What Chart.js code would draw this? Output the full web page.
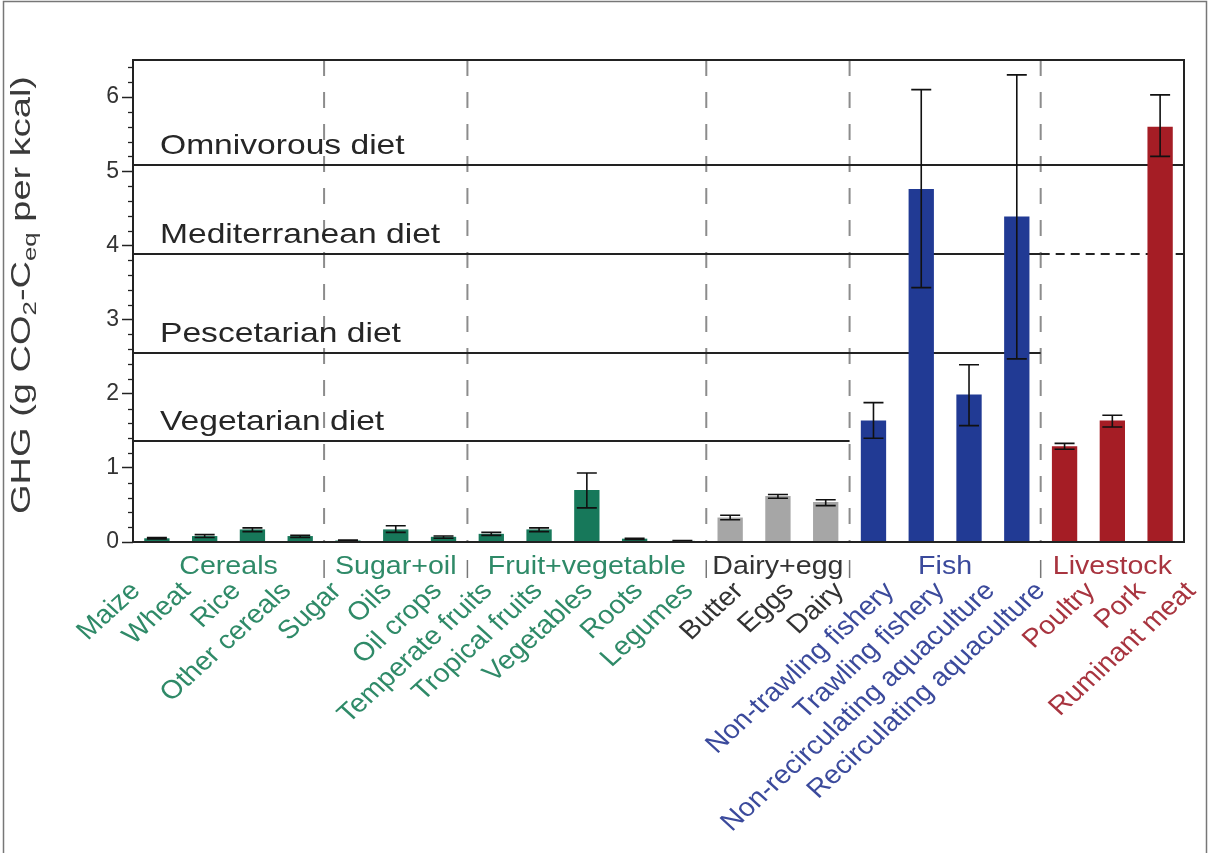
<!DOCTYPE html>
<html>
<head>
<meta charset="utf-8">
<script src="https://cdn.jsdelivr.net/npm/chart.js@4.4.1/dist/chart.umd.min.js"></script>
<style>
  html, body { margin: 0; padding: 0; background: #fff; }
  #wrap { width: 1208px; height: 853px; position: relative; }
</style>
</head>
<body>
<div id="wrap"><canvas id="c" width="1208" height="853"></canvas></div>
<script>
// Food items, grouped by food class
const categories = ['Maize', 'Wheat', 'Rice', 'Other cereals', 'Sugar', 'Oils', 'Oil crops',
  'Temperate fruits', 'Tropical fruits', 'Vegetables', 'Roots', 'Legumes',
  'Butter', 'Eggs', 'Dairy',
  'Non-trawling fishery', 'Trawling fishery', 'Non-recirculating aquaculture', 'Recirculating aquaculture',
  'Poultry', 'Pork', 'Ruminant meat'];

// Mean GHG emissions (g CO2-Ceq per kcal) and error-bar range
const ghgValues = [0.05, 0.08, 0.17, 0.08, 0.02, 0.17, 0.07,
  0.11, 0.17, 0.70, 0.045, 0.015,
  0.33, 0.62, 0.54,
  1.64, 4.76, 1.99, 4.39,
  1.29, 1.64, 5.60];
const errLow = [0.04, 0.06, 0.14, 0.06, 0.015, 0.13, 0.05,
  0.09, 0.14, 0.46, 0.035, 0.01,
  0.30, 0.59, 0.49,
  1.40, 3.43, 1.57, 2.47,
  1.25, 1.55, 5.20];
const errHigh = [0.06, 0.10, 0.19, 0.09, 0.025, 0.22, 0.08,
  0.13, 0.19, 0.93, 0.05, 0.02,
  0.36, 0.64, 0.57,
  1.88, 6.10, 2.39, 6.30,
  1.33, 1.71, 6.03];

// Food classes
const groupNames = ['Cereals', 'Sugar+oil', 'Fruit+vegetable', 'Dairy+egg', 'Fish', 'Livestock'];
const groupSizes = [4, 3, 5, 3, 4, 3];
const groupBarColors = ['#17785a', '#17785a', '#17785a', '#a6a6a6', '#213a94', '#a51d25'];
const groupTextColors = ['#2f8a68', '#2f8a68', '#2f8a68', '#333333', '#3b4a9c', '#a8343f'];

// Diet reference levels and how far (in items) each line runs
const dietNames = ['Omnivorous diet', 'Mediterranean diet', 'Pescetarian diet', 'Vegetarian diet'];
const dietValues = [5.09, 3.88, 2.55, 1.36];
const dietSolidEnd = [22, 19, 19, 15];
const dietDashedEnd = [22, 22, 19, 15];

const yTicks = [0, 1, 2, 3, 4, 5, 6];
const yMax = 6.5;

// group index for each item
const itemGroup = [];
groupSizes.forEach((n, g) => { for (let k = 0; k < n; k++) itemGroup.push(g); });
const groupStarts = [];
groupSizes.reduce((acc, n) => { groupStarts.push(acc); return acc + n; }, 0);

const FONT = '"Liberation Sans", Arial, Helvetica, sans-serif';

function stretchedText(ctx, text, x, y, sx, align, base) {
  ctx.save();
  ctx.translate(x, y);
  ctx.scale(sx, 1);
  ctx.textAlign = align;
  ctx.textBaseline = base;
  ctx.fillText(text, 0, 0);
  ctx.restore();
}

const decorPlugin = {
  id: 'decor',
  beforeDatasetsDraw(chart) {
    const {ctx, chartArea: a, scales: {x, y}} = chart;
    const step = x.width / categories.length;
    // dashed separators between food classes
    ctx.save();
    ctx.strokeStyle = '#8c8c8c';
    ctx.lineWidth = 2;
    ctx.setLineDash([16, 16]);
    groupStarts.slice(1).forEach(s => {
      const bx = x.getPixelForValue(s) - step / 2;
      ctx.beginPath();
      ctx.moveTo(bx, a.top);
      ctx.lineTo(bx, a.bottom);
      ctx.stroke();
    });
    ctx.restore();

    // diet reference lines with labels
    ctx.save();
    ctx.strokeStyle = '#222';
    ctx.lineWidth = 2;
    dietValues.forEach((v, i) => {
      const py = Math.round(y.getPixelForValue(v));
      const xs = x.getPixelForValue(dietSolidEnd[i] - 1) + step / 2;
      const xd = x.getPixelForValue(dietDashedEnd[i] - 1) + step / 2;
      ctx.setLineDash([]);
      ctx.beginPath();
      ctx.moveTo(a.left, py);
      ctx.lineTo(xs, py);
      ctx.stroke();
      if (xd > xs + 1) {
        ctx.setLineDash([9, 6]);
        ctx.beginPath();
        ctx.moveTo(xs, py);
        ctx.lineTo(xd, py);
        ctx.stroke();
      }
      ctx.fillStyle = '#262626';
      ctx.font = '28px ' + FONT;
      stretchedText(ctx, dietNames[i], a.left + 27, py - 11, 1.2, 'left', 'alphabetic');
    });
    ctx.restore();
  },
  afterDatasetsDraw(chart) {
    const {ctx, chartArea: a, scales: {x, y}} = chart;
    const step = x.width / categories.length;
    // error bars
    ctx.save();
    ctx.strokeStyle = '#111';
    ctx.lineWidth = 1.6;
    categories.forEach((c, i) => {
      const cx = x.getPixelForValue(i);
      const y1 = y.getPixelForValue(errLow[i]);
      const y2 = y.getPixelForValue(errHigh[i]);
      const hw = 10;
      ctx.beginPath();
      ctx.moveTo(cx, y1); ctx.lineTo(cx, y2);
      ctx.moveTo(cx - hw, y2); ctx.lineTo(cx + hw, y2);
      ctx.moveTo(cx - hw, y1); ctx.lineTo(cx + hw, y1);
      ctx.stroke();
    });
    ctx.restore();

    // plot frame
    ctx.save();
    ctx.strokeStyle = '#222';
    ctx.lineWidth = 2;
    ctx.strokeRect(a.left, a.top, a.right - a.left, a.bottom - a.top);
    // minor ticks on the value axis
    ctx.lineWidth = 1.3;
    for (let k = 1; k < yMax * 5; k++) {
      if (k % 5 === 0) continue;
      const py = Math.round(y.getPixelForValue(k / 5)) + 0.5;
      ctx.beginPath();
      ctx.moveTo(a.left - 5, py);
      ctx.lineTo(a.left, py);
      ctx.stroke();
    }
    ctx.restore();

    // food class labels and their separators below the axis
    ctx.save();
    ctx.font = '26px ' + FONT;
    groupNames.forEach((g, gi) => {
      const s = groupStarts[gi];
      const e = s + groupSizes[gi] - 1;
      const left = x.getPixelForValue(s) - step / 2;
      const right = x.getPixelForValue(e) + step / 2;
      ctx.fillStyle = groupTextColors[gi];
      stretchedText(ctx, g, (left + right) / 2, a.bottom + 32, 1.1, 'center', 'alphabetic');
      if (gi > 0) {
        ctx.strokeStyle = '#777';
        ctx.lineWidth = 1.5;
        ctx.beginPath();
        ctx.moveTo(left, a.bottom + 18);
        ctx.lineTo(left, a.bottom + 36);
        ctx.stroke();
      }
    });
    ctx.restore();

    // item labels, rotated
    ctx.save();
    ctx.font = '26px ' + FONT;
    categories.forEach((c, i) => {
      const lx = a.left + 3 + i * step * 1.052;
      const ly = a.bottom + 45;
      ctx.fillStyle = groupTextColors[itemGroup[i]];
      ctx.save();
      ctx.translate(lx, ly);
      ctx.scale(1.1, 1);
      ctx.rotate(-Math.PI / 4);
      ctx.textAlign = 'right';
      ctx.textBaseline = 'middle';
      ctx.fillText(c, 0, 0);
      ctx.restore();
    });
    ctx.restore();

    // value axis title with subscripts
    ctx.save();
    const parts = [['GHG (g CO', false], ['2', true], ['-C', false], ['eq', true], [' per kcal)', false]];
    const big = '28px ' + FONT, small = '19px ' + FONT;
    let total = 0;
    parts.forEach(p => { ctx.font = p[1] ? small : big; total += ctx.measureText(p[0]).width; });
    const target = 438;
    const k = target / total;
    ctx.translate(22, (a.top + a.bottom) / 2 - 6);
    ctx.rotate(-Math.PI / 2);
    ctx.scale(k, 1);
    ctx.fillStyle = '#3a3a3a';
    ctx.textBaseline = 'middle';
    let px = -total / 2;
    parts.forEach(p => {
      ctx.font = p[1] ? small : big;
      ctx.fillText(p[0], px, p[1] ? 9 : 0);
      px += ctx.measureText(p[0]).width;
    });
    ctx.restore();

    // outer border
    ctx.save();
    ctx.strokeStyle = '#777';
    ctx.lineWidth = 1.5;
    ctx.beginPath();
    ctx.moveTo(3.5, chart.height);
    ctx.lineTo(3.5, 1.5);
    ctx.lineTo(chart.width - 1.5, 1.5);
    ctx.lineTo(chart.width - 1.5, chart.height);
    ctx.stroke();
    ctx.restore();
  }
};

new Chart(document.getElementById('c'), {
  type: 'bar',
  data: {
    labels: categories,
    datasets: [{
      data: ghgValues,
      backgroundColor: categories.map((c, i) => groupBarColors[itemGroup[i]]),
      borderWidth: 0,
      barPercentage: 0.53,
      categoryPercentage: 1.0
    }]
  },
  options: {
    responsive: false,
    animation: false,
    devicePixelRatio: 1,
    layout: { padding: { top: 60, right: 24, left: 0, bottom: 0 } },
    plugins: { legend: { display: false }, tooltip: { enabled: false } },
    scales: {
      x: {
        type: 'category',
        grid: { display: false },
        border: { display: false },
        ticks: { display: false },
        afterFit(s) { s.height = 311; }
      },
      y: {
        min: 0,
        max: yMax,
        afterBuildTicks(s) { s.ticks = yTicks.map(v => ({ value: v })); },
        afterFit(s) { s.width = 133; },
        grid: { drawOnChartArea: false, drawTicks: true, tickLength: 11, tickColor: '#222', tickWidth: 1.5 },
        border: { display: false },
        ticks: { color: '#333', font: { size: 23, family: FONT }, padding: 3 }
      }
    }
  },
  plugins: [decorPlugin]
});
</script>
</body>
</html>
